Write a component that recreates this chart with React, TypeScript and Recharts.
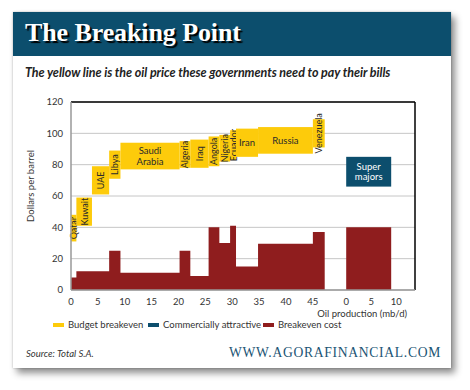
import React from 'react';
import {
  ComposedChart,
  Area,
  XAxis,
  YAxis,
  CartesianGrid,
  ReferenceArea,
  ReferenceLine,
} from 'recharts';

// OPEC-ish producers, in the order they sit on the x axis
const countries = ['Qatar', 'Kuwait', 'UAE', 'Libya', 'Saudi Arabia', 'Algeria', 'Iraq', 'Angola', 'Nigeria', 'Ecuador', 'Iran', 'Russia', 'Venezuela'];
const production = [1.0, 2.9, 3.2, 2.1, 11.0, 2.0, 3.4, 2.0, 2.0, 1.1, 4.1, 10.2, 2.2]; // mb/d
const budgetLow = [31, 41, 61, 71, 77, 78, 78, 79, 82, 83, 85, 87, 91];
const budgetHigh = [48, 59, 79, 89, 94, 95, 96, 98, 99, 102, 103, 104, 109];
const breakevenCost = [8, 12, 12, 25, 11, 25, 9, 40, 30, 41, 15, 29.5, 37];

// super majors, drawn on their own little 0-10 axis
const superProduction = 9;
const superLow = 66;
const superHigh = 85;
const superCost = 40;

const yTicks = [0, 20, 40, 60, 80, 100, 120];
const mainTicks = [0, 5, 10, 15, 20, 25, 30, 35, 40, 45];
const superTicks = [0, 5, 10];

const YELLOW = '#FDCB0B';
const BLUE = '#0C4E6D';
const RED = '#8F1D1E';
const FONT = 'Lato, "Open Sans", sans-serif';

// second section offset / squeeze on the shared numeric axis
const SUPER_START = 51.2;
const SUPER_SCALE = 0.93;
const X_MAX = 64;

const starts: number[] = [];
production.reduce((acc, p) => {
  starts.push(acc);
  return acc + p;
}, 0);
const mainEnd = starts[starts.length - 1] + production[production.length - 1];
const superEnd = SUPER_START + superProduction * SUPER_SCALE;

const costData: { x: number; cost: number | null }[] = [
  ...starts.map((s, i) => ({ x: s, cost: breakevenCost[i] })),
  { x: mainEnd, cost: breakevenCost[breakevenCost.length - 1] },
  { x: (mainEnd + SUPER_START) / 2, cost: null },
  { x: SUPER_START, cost: superCost },
  { x: superEnd, cost: superCost },
];

const xTicks = [...mainTicks, ...superTicks.map((t) => SUPER_START + t * SUPER_SCALE)];
const fmtX = (v: number) =>
  v >= SUPER_START - 0.01 ? String(Math.round((v - SUPER_START) / SUPER_SCALE)) : String(v);

const boxShape = (name: string, fill: string, color: string, vertical: boolean) => (p: any) => {
  const { x, y, width, height } = p;
  const cx = x + width / 2;
  const cy = y + height / 2;
  const lines = name.split(' ');
  return (
    <g>
      <rect x={x} y={y} width={width} height={height} fill={fill} />
      {vertical ? (
        <text
          x={cx}
          y={cy}
          transform={`rotate(-90 ${cx} ${cy})`}
          textAnchor="middle"
          dominantBaseline="central"
          fontSize={9}
          fontFamily={FONT}
          fill={color}
        >
          {name}
        </text>
      ) : (
        <text textAnchor="middle" fontSize={9.5} fontFamily={FONT} fill={color}>
          {lines.map((l, i) => (
            <tspan key={l} x={cx} y={cy + (i - (lines.length - 1) / 2) * 10.5} dominantBaseline="central">
              {l}
            </tspan>
          ))}
        </text>
      )}
    </g>
  );
};

const legend = [
  { label: 'Budget breakeven', color: YELLOW, left: 53 },
  { label: 'Commercially attractive', color: BLUE, left: 148 },
  { label: 'Breakeven cost', color: RED, left: 263 },
];

export default function App() {
  return (
    <div style={{ position: 'absolute', left: 0, top: 0, width: 470, height: 390, background: '#fff', overflow: 'hidden', fontFamily: FONT }}>
      <div
        style={{
          position: 'absolute',
          left: 13,
          top: 12,
          width: 438,
          height: 356,
          background: '#fff',
          boxShadow: '0 0 2px rgba(0,0,0,0.25), 4px 5px 7px rgba(0,0,0,0.45)',
        }}
      />
      <div style={{ position: 'absolute', left: 13, top: 12, width: 438, height: 44, background: BLUE }} />
      <div
        style={{
          position: 'absolute',
          left: 25,
          top: 16,
          fontFamily: '"Liberation Serif", "DejaVu Serif", serif',
          fontWeight: 'bold',
          fontSize: 26,
          lineHeight: '33px',
          color: '#fff',
          textShadow: '2px 2px 1px #000',
          letterSpacing: -0.1,
        }}
      >
        The Breaking Point
      </div>
      <div
        style={{
          position: 'absolute',
          left: 25,
          top: 65,
          fontSize: 12.5,
          fontWeight: 'bold',
          fontStyle: 'italic',
          color: '#222',
          whiteSpace: 'nowrap',
          letterSpacing: -0.05,
        }}
      >
        The yellow line is the oil price these governments need to pay their bills
      </div>

      <div
        style={{
          position: 'absolute',
          left: 30,
          top: 186,
          transform: 'translate(-50%, -50%) rotate(-90deg)',
          fontSize: 9.5,
          color: '#333',
          whiteSpace: 'nowrap',
        }}
      >
        Dollars per barrel
      </div>

      <div style={{ position: 'absolute', left: 0, top: 90 }}>
        <ComposedChart width={470} height={220} data={costData} margin={{ top: 12, right: 55, bottom: 0, left: 31 }}>
          <CartesianGrid vertical={false} stroke="#c6c6c6" strokeWidth={1} />
          <XAxis
            type="number"
            dataKey="x"
            domain={[0, X_MAX]}
            ticks={xTicks}
            tickFormatter={fmtX}
            interval={0}
            height={20}
            tickLine={false}
            axisLine={{ stroke: '#999', strokeWidth: 1.5 }}
            tick={{ fontSize: 9.5, fill: '#333', fontFamily: FONT }}
            allowDataOverflow
          />
          <YAxis
            type="number"
            domain={[0, 120]}
            ticks={yTicks}
            width={40}
            tickLine={false}
            axisLine={{ stroke: '#999', strokeWidth: 1.5 }}
            tick={{ fontSize: 9.5, fill: '#333', fontFamily: FONT }}
          />
          <Area
            type="stepAfter"
            dataKey="cost"
            fill={RED}
            fillOpacity={1}
            stroke="none"
            connectNulls={false}
            isAnimationActive={false}
          />
          {countries.map((c, i) => (
            <ReferenceArea
              key={c}
              x1={starts[i]}
              x2={starts[i] + production[i]}
              y1={budgetLow[i]}
              y2={budgetHigh[i]}
              fill={YELLOW}
              fillOpacity={1}
              shape={boxShape(c, YELLOW, '#2a2a2a', production[i] < 4)}
            />
          ))}
          <ReferenceArea
            x1={SUPER_START}
            x2={superEnd}
            y1={superLow}
            y2={superHigh}
            fill={BLUE}
            fillOpacity={1}
            shape={boxShape('Super majors', BLUE, '#fff', false)}
          />
          <ReferenceLine y={120} stroke="#000" strokeWidth={1.5} />
          <ReferenceLine x={X_MAX} stroke="#000" strokeWidth={1.5} />
        </ComposedChart>
      </div>

      <div style={{ position: 'absolute', right: 470 - 407, top: 308, fontSize: 9.5, color: '#333', whiteSpace: 'nowrap' }}>
        Oil production (mb/d)
      </div>

      {legend.map((l) => (
        <div key={l.label} style={{ position: 'absolute', left: l.left, top: 319, display: 'flex', alignItems: 'center', fontSize: 9.5, color: '#333', whiteSpace: 'nowrap' }}>
          <span style={{ display: 'inline-block', width: 11, height: 4, background: l.color, marginRight: 4 }} />
          {l.label}
        </div>
      ))}

      <div style={{ position: 'absolute', left: 26, top: 348, fontSize: 9.5, fontStyle: 'italic', color: '#333' }}>
        Source: Total S.A.
      </div>
      <div
        style={{
          position: 'absolute',
          left: 229,
          top: 345,
          fontFamily: '"Liberation Serif", "DejaVu Serif", serif',
          fontSize: 13.6,
          letterSpacing: 0.7,
          color: '#1A5474',
          whiteSpace: 'nowrap',
        }}
      >
        WWW.AGORAFINANCIAL.COM
      </div>
    </div>
  );
}
